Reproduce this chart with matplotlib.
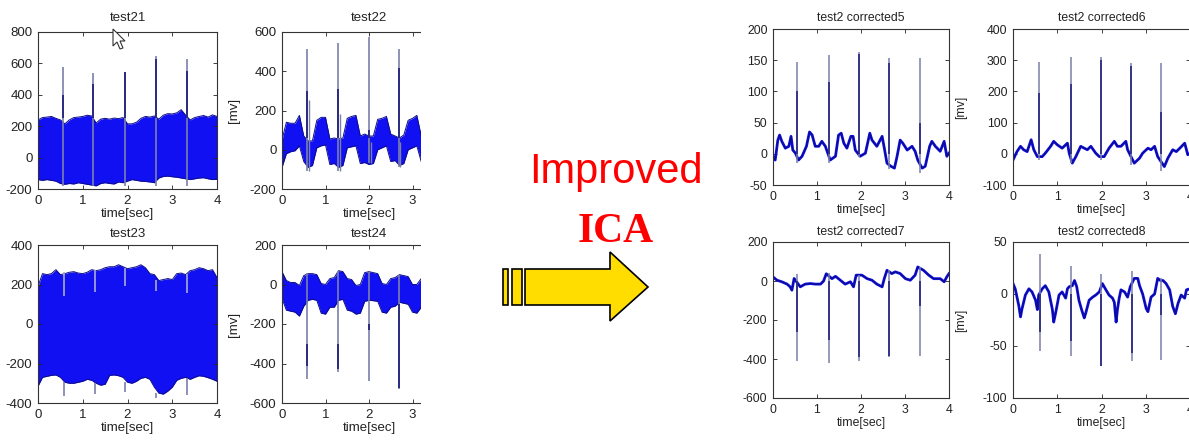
import matplotlib.pyplot as plt
from matplotlib.patches import Polygon, Rectangle

plt.rcParams['font.family'] = ['Liberation Sans Narrow', 'Liberation Sans', 'DejaVu Sans']
plt.rcParams['axes.unicode_minus'] = False

W, H = 1189, 443

# time knots (sec) used for the wide noisy bands of the raw channels
t_band = [0.0, 0.1, 0.2, 0.3, 0.4, 0.5, 0.6, 0.7, 0.8, 0.9, 1.0, 1.1, 1.2, 1.3,
          1.4, 1.5, 1.6, 1.7, 1.8, 1.9, 2.0, 2.1, 2.2, 2.3, 2.4, 2.5, 2.6, 2.7,
          2.8, 2.9, 3.0, 3.1, 3.2, 3.3, 3.4, 3.5, 3.6, 3.7, 3.8, 3.9, 4.0]

# ---- raw mixtures (upper / lower edge of the noise band) ----
t21_hi = [240, 255, 258, 262, 250, 240, 215, 240, 255, 258, 262, 270, 265, 220,
          245, 250, 245, 252, 248, 255, 215, 215, 225, 250, 262, 258, 265, 245,
          270, 280, 278, 285, 305, 270, 240, 255, 262, 268, 258, 272, 262]
t21_lo = [-140, -145, -140, -145, -150, -165, -170, -165, -168, -160, -165, -170,
          -175, -180, -165, -160, -165, -168, -155, -160, -150, -140, -145, -150,
          -152, -155, -160, -130, -120, -118, -122, -125, -130, -135, -140, -135,
          -130, -128, -135, -140, -138]
t21_spk = [0.56, 1.24, 1.94, 2.63, 3.33]
t21_peak = [580, 540, 545, 650, 630]
t21_dark = [400, 470, 545, 630, 550]

t22_hi = [50, 140, 135, 135, 175, 70, 45, 45, 150, 165, 165, 55, 60, 55, 60, 160,
          170, 175, 70, 80, 70, 70, 155, 160, 170, 80, 70, 60, 75, 150, 160, 175,
          70, 60, 60, 70, 155, 165, 170, 70, 80]
t22_lo = [-90, -20, -10, -5, 20, -60, -90, -80, 10, 20, 25, -75, -70, -90, -80, 10,
          15, 20, -70, -65, -75, -70, 0, 10, 20, -60, -55, -80, -70, 0, 10, 20,
          -60, -70, -75, -60, 0, 10, 20, -60, -50]
t22_spk = [0.58, 1.29, 2.0, 2.68, 3.37]
t22_peak = [515, 545, 575, 515, 520]
t22_base = [-110, -110, -70, -90, -90]
t22_dark = [300, 310, 100, 415, 400]
t22_echo = [255, 180, 40, 40, 40]

t23_hi = [190, 255, 250, 255, 275, 250, 255, 262, 265, 258, 255, 262, 275, 270,
          275, 285, 290, 290, 300, 290, 280, 285, 290, 300, 285, 255, 250, 220,
          225, 230, 225, 255, 258, 250, 270, 275, 285, 280, 270, 275, 235]
t23_lo = [-315, -270, -265, -260, -258, -270, -295, -300, -300, -295, -290, -280,
          -285, -300, -310, -305, -260, -258, -262, -270, -295, -300, -290, -275,
          -270, -280, -320, -350, -355, -340, -320, -285, -275, -270, -280, -270,
          -262, -265, -272, -280, -290]
t23_spk = [0.57, 1.27, 1.94, 2.64, 3.34]
t23_top = [262, 272, 285, 222, 252]
t23_notch = [140, 160, 190, 165, 155]
t23_floor = [-292, -300, -295, -348, -275]
t23_min = [-365, -355, -345, -375, -360]

t24_hi = [65, 20, 10, 10, -5, 45, 55, 55, 50, 5, 0, 30, 35, 70, 65, 30, 25, -5, 0,
          60, 65, 60, 55, 5, 0, 30, 35, 50, 45, 40, 0, 0, 30, 40, 55, 50, 10, 0,
          20, 40, 50]
t24_lo = [-70, -130, -135, -140, -160, -110, -80, -75, -80, -145, -150, -115, -115,
          -80, -75, -130, -135, -150, -145, -85, -80, -82, -85, -140, -145, -115,
          -110, -90, -95, -100, -140, -145, -115, -100, -85, -90, -135, -145, -120,
          -100, -90]
t24_spk = [0.58, 1.29, 2.0, 2.68, 3.37]
t24_top = [60, 70, 65, 50, 55]
t24_min = [-480, -445, -490, -530, -500]
t24_dark_a = [-300, -300, -200, -100, -300]
t24_dark_b = [-415, -430, -230, -525, -490]

# ---- corrected sources (traced baseline + R spikes) ----
c5_t = [0.00, 0.05, 0.11, 0.15, 0.20, 0.28, 0.36, 0.41, 0.45, 0.51, 0.58, 0.66,
        0.76, 0.83, 0.89, 0.96, 1.04, 1.11, 1.19, 1.30, 1.42, 1.49, 1.55, 1.61,
        1.68, 1.77, 1.82, 1.87, 1.98, 2.10, 2.20, 2.25, 2.36, 2.48, 2.53, 2.59,
        2.68, 2.76, 2.82, 2.89, 2.95, 3.05, 3.16, 3.23, 3.29, 3.39, 3.46, 3.56,
        3.61, 3.69, 3.80, 3.89, 3.95, 4.00]
c5_v = [-4, -10, 22, 30, 20, 9, 12, 28, 6, 1, -10, -4, 12, 35, 30, 12, 12, 20, 12,
        -10, -4, 30, 33, 17, 9, 28, 28, 6, -4, 1, 33, 22, 12, 28, 9, -15, -20, -23,
        -4, 22, 17, 6, 12, 4, -10, -23, -20, 12, 20, 12, 4, 20, -4, 1]
c5_spk = [0.545, 1.265, 1.947, 2.644, 3.348]
c5_peak = [147, 158, 163, 153, 153]
c5_base = [-15, -15, -5, -25, -30]
c5_dark = [100, 115, 160, 145, 50]

c6_t = [0.0, 0.02, 0.09, 0.17, 0.24, 0.32, 0.41, 0.47, 0.55, 0.66, 0.73, 0.85,
        0.92, 1.00, 1.11, 1.23, 1.27, 1.34, 1.42, 1.53, 1.61, 1.68, 1.76, 1.87,
        1.95, 2.06, 2.17, 2.29, 2.36, 2.44, 2.55, 2.59, 2.74, 2.86, 2.93, 3.05,
        3.12, 3.20, 3.27, 3.42, 3.50, 3.61, 3.69, 3.77, 3.88, 3.95, 4.0]
c6_v = [-20, -14, 7, 24, 13, 7, 45, 13, -9, -9, 2, 24, 40, 29, 18, 34, 2, -30, -9,
        24, 18, 13, 24, 2, -9, -9, 18, 40, 24, 24, 40, 13, -30, -14, 2, 18, 13, 24,
        -9, -41, -14, 13, 7, 18, 34, -3, 2]
c6_spk = [0.58, 1.30, 1.985, 2.67, 3.35]
c6_peak = [295, 310, 310, 290, 290]
c6_base = [-20, -30, -20, -35, -55]
c6_dark = [195, 225, 300, 280, 135]

c7_t = [0.0, 0.09, 0.20, 0.32, 0.39, 0.43, 0.48, 0.62, 0.73, 0.85, 0.96, 1.08,
        1.15, 1.21, 1.34, 1.42, 1.53, 1.64, 1.76, 1.83, 1.89, 2.02, 2.14, 2.25,
        2.36, 2.48, 2.53, 2.59, 2.70, 2.78, 2.89, 3.01, 3.12, 3.23, 3.29, 3.42,
        3.54, 3.65, 3.80, 3.89, 3.95, 4.0]
c7_v = [21, 4, -4, -16, -30, -47, 13, -30, -16, -13, -16, -16, 0, 37, 12, 24, 4,
        -16, -4, -30, 30, 30, 12, 4, -16, -30, 13, 55, 38, 47, 38, 12, 4, 30, 72,
        55, 30, 12, 12, -4, 21, 38]
c7_spk = [0.545, 1.265, 1.947, 2.644, 3.35]
c7_top = [35, 40, 30, 55, 72]
c7_min = [-410, -420, -410, -390, -385]
c7_dark = [-260, -300, -390, -385, -130]

c8_t = [0.0, 0.05, 0.13, 0.17, 0.20, 0.28, 0.36, 0.43, 0.51, 0.55, 0.58, 0.66,
        0.73, 0.81, 0.89, 0.92, 0.96, 1.04, 1.11, 1.19, 1.23, 1.27, 1.34, 1.39,
        1.44, 1.49, 1.55, 1.61, 1.64, 1.72, 1.80, 1.87, 1.95, 2.02, 2.10, 2.17,
        2.25, 2.29, 2.33, 2.36, 2.40, 2.44, 2.52, 2.59, 2.65, 2.74, 2.82, 2.86,
        2.93, 3.01, 3.05, 3.12, 3.20, 3.27, 3.33, 3.39, 3.46, 3.54, 3.61, 3.67,
        3.73, 3.80, 3.88, 3.92, 4.0]
c8_v = [10, 5, -11, -22, -15, -1, 5, 2, -6, -15, -1, 5, 8, 2, -15, -27, -19, -1, 2,
        -4, 5, 7, 8, 13, 7, -6, -15, -23, -19, -6, -3, -1, 2, 10, 4, -1, -4, -8,
        -27, -15, -4, 4, 2, -3, 7, 15, 15, 8, 0, -14, -17, -3, 0, 15, 13, 13, 10,
        4, -12, -19, -9, -1, -4, 4, 5]
c8_spk = [0.60, 1.30, 1.985, 2.68, 3.35]
c8_top = [38, 27, 19, 22, 15]
c8_min = [-55, -60, -69, -64, -63]
c8_dark = [-37, -45, -69, -57, -20]

BLUE = '#1010f2'
EDGE = '#0c0c8a'
GRAY = '#7c7fab'
NAVY = '#1a1a78'


def box(l, t, r, b):
    return [l / W, 1 - b / H, (r - l) / W, (b - t) / H]


def style(ax, ylim, yticks, title, fs, title_pad, ylabel=False, ylab_x=-0.25):
    ax.set_xlim(0, 4)
    ax.set_ylim(*ylim)
    ax.set_xticks([0, 1, 2, 3, 4])
    ax.set_yticks(yticks)
    ax.tick_params(direction='in', top=True, right=True, length=3, width=0.6,
                   pad=4, labelsize=fs, colors='#222222')
    for s in ax.spines.values():
        s.set_linewidth(0.8)
        s.set_color('#333333')
    ax.set_title(title, fontsize=fs, pad=title_pad, color='#222222')
    ax.set_xlabel('time[sec]', fontsize=fs, labelpad=1, color='#222222')
    if ylabel:
        ax.set_ylabel('[mv]', fontsize=fs, color='#222222')
        ax.yaxis.set_label_coords(ylab_x, 0.5)


def band(ax, lo, hi):
    ax.fill_between(t_band, lo, hi, color=BLUE, lw=0)
    ax.plot(t_band, hi, color=EDGE, lw=0.7)
    ax.plot(t_band, lo, color=EDGE, lw=0.7)


def trace(ax, t, v):
    ax.plot(t, v, color=BLUE, lw=2.0, solid_joinstyle='round')
    ax.plot(t, v, color=EDGE, lw=0.9)


fig = plt.figure(figsize=(W / 100, H / 100), dpi=100)

# left group: raw recordings
ax = fig.add_axes(box(38, 32, 217, 189))
band(ax, t21_lo, t21_hi)
ax.vlines(t21_spk, -178, t21_peak, color=GRAY, lw=1.2)
ax.vlines(t21_spk, 250, t21_dark, color=NAVY, lw=1.2)
style(ax, (-200, 800), [-200, 0, 200, 400, 600, 800], 'test21', 9.5, 8)

ax = fig.add_axes(box(282, 32, 456, 189))
band(ax, t22_lo, t22_hi)
ax.vlines(t22_spk, t22_base, t22_peak, color=GRAY, lw=1.2)
ax.vlines([s + 0.035 for s in t22_spk], t22_base, t22_echo, color=GRAY, lw=1.0)
ax.vlines(t22_spk, 60, t22_dark, color=NAVY, lw=1.2)
style(ax, (-200, 600), [-200, 0, 200, 400, 600], 'test22', 9.5, 8, True, -0.24)

ax = fig.add_axes(box(38, 245, 217, 403))
band(ax, t23_lo, t23_hi)
ax.vlines(t23_spk, t23_notch, t23_top, color='#a9abd0', lw=1.2)
ax.vlines(t23_spk, t23_min, t23_floor, color=GRAY, lw=1.2)
style(ax, (-400, 400), [-400, -200, 0, 200, 400], 'test23', 9.5, 6)

ax = fig.add_axes(box(282, 245, 456, 403))
band(ax, t24_lo, t24_hi)
ax.vlines(t24_spk, t24_min, t24_top, color=GRAY, lw=1.2)
ax.vlines(t24_spk, t24_dark_b, t24_dark_a, color=NAVY, lw=1.2)
style(ax, (-600, 200), [-600, -400, -200, 0, 200], 'test24', 9.5, 6, True, -0.24)

# right group: corrected sources
ax = fig.add_axes(box(773, 29, 949, 185))
trace(ax, c5_t, c5_v)
ax.vlines(c5_spk, c5_base, c5_peak, color=GRAY, lw=1.1)
ax.vlines(c5_spk, 0, c5_dark, color=NAVY, lw=1.1)
style(ax, (-50, 200), [-50, 0, 50, 100, 150, 200], 'test2 corrected5', 8.8, 6)

ax = fig.add_axes(box(1013, 29, 1190, 185))
trace(ax, c6_t, c6_v)
ax.vlines(c6_spk, c6_base, c6_peak, color=GRAY, lw=1.1)
ax.vlines(c6_spk, 0, c6_dark, color=NAVY, lw=1.1)
style(ax, (-100, 400), [-100, 0, 100, 200, 300, 400], 'test2 corrected6', 8.8, 6,
      True, -0.26)

ax = fig.add_axes(box(773, 242, 949, 398))
trace(ax, c7_t, c7_v)
ax.vlines(c7_spk, c7_min, c7_top, color=GRAY, lw=1.1)
ax.vlines(c7_spk, c7_dark, 0, color=NAVY, lw=1.1)
style(ax, (-600, 200), [-600, -400, -200, 0, 200], 'test2 corrected7', 8.8, 5)

ax = fig.add_axes(box(1013, 242, 1190, 398))
trace(ax, c8_t, c8_v)
ax.vlines(c8_spk, c8_min, c8_top, color=GRAY, lw=1.1)
ax.vlines(c8_spk, c8_dark, 0, color=NAVY, lw=1.1)
style(ax, (-100, 50), [-100, -50, 0, 50], 'test2 corrected8', 8.8, 5, True, -0.26)

# overlay in pixel units: crop of the left screenshot, arrow, captions, cursor
ov = fig.add_axes([0, 0, 1, 1], zorder=10)
ov.set_xlim(0, W)
ov.set_ylim(H, 0)
ov.axis('off')
ov.add_patch(Rectangle((421, 0), 320, H, color='white', lw=0))
ov.add_patch(Rectangle((503, 269), 5, 36, fc='#ffdd00', ec='black', lw=1.2))
ov.add_patch(Rectangle((512, 269), 10, 36, fc='#ffdd00', ec='black', lw=1.2))
ov.add_patch(Polygon([(525, 269), (610, 269), (610, 252), (648, 287), (610, 321),
                      (610, 305), (525, 305)], closed=True, fc='#ffdd00',
                     ec='black', lw=1.2))
ov.add_patch(Polygon([(113, 29), (113, 46), (117, 42), (120, 49), (123, 48),
                      (120, 41), (125, 41)], closed=True, fc='white', ec='#333333',
                     lw=0.8))
ov.text(616, 183, 'Improved', color='#ff0000', fontsize=30, ha='center',
        va='baseline', family=['Liberation Sans', 'DejaVu Sans'])
ov.text(616, 242, 'ICA', color='#ff0000', fontsize=30, fontweight='bold',
        ha='center', va='baseline', family=['Liberation Serif', 'DejaVu Serif'])

fig.savefig('out.png', dpi=100)
